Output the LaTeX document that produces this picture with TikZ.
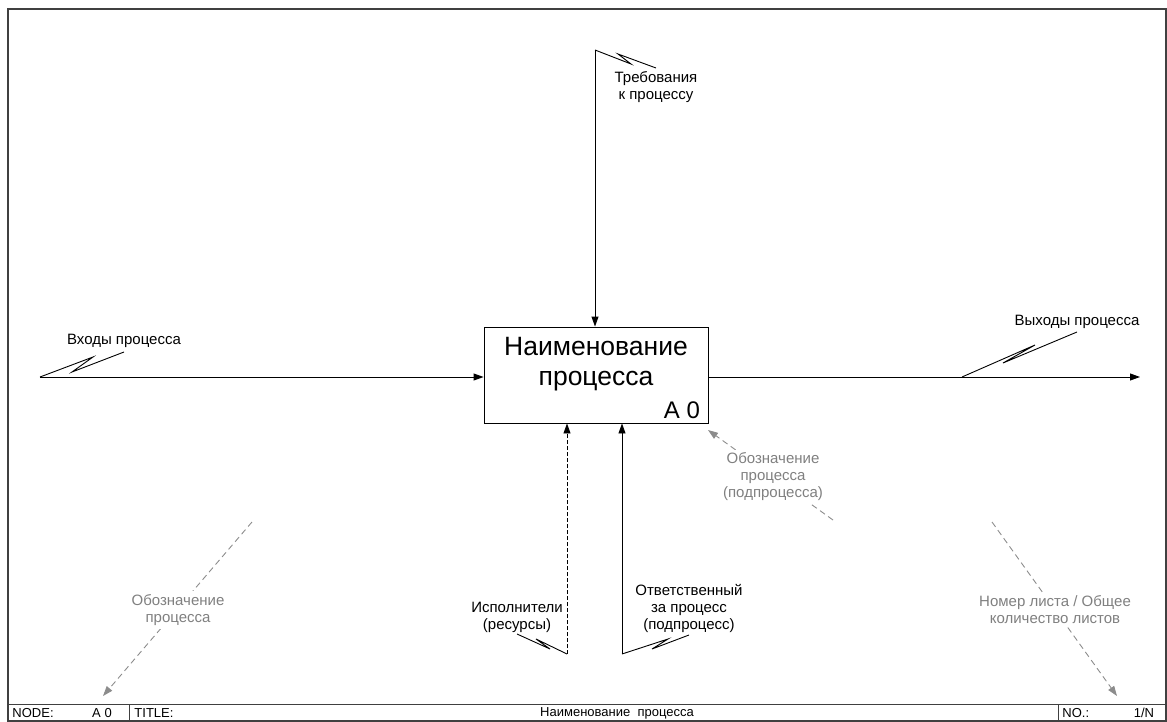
\documentclass[tikz,border=0pt]{standalone}
\usepackage{fontspec}
\setmainfont{Liberation Sans}
\usetikzlibrary{arrows.meta,positioning}

\begin{document}
\begin{tikzpicture}[x=1pt,y=-1pt,>={Triangle[length=10pt,width=7pt]},line width=0.9pt,
    lbl/.style={align=center,font=\fontsize{15}{17}\selectfont,inner sep=1pt},
    note/.style={lbl,text=black!50,fill=white,inner sep=3pt},
    hint/.style={draw=black!45,dashed,dash pattern=on 6pt off 4pt,->},
    bar/.style={font=\fontsize{13}{15}\selectfont,inner sep=0pt}]

    \useasboundingbox (0,0) rectangle (1167,722);

    % frame and bottom bar
    \draw[line width=1.5pt,black!75] (8,9) rectangle (1166,721);
    \draw[black!75] (8,704) -- (1166,704) (129,704) -- (129,721) (1058,704) -- (1058,721);
    \node[bar,anchor=west] (nd)  at (12,713)   {NODE:};
    \node[bar]             (ndv) at (102,713)  {A 0};
    \node[bar,anchor=west] (tt)  at (134,713)  {TITLE:};
    \node[bar]             (ttv) at (617,713)  {Наименование\ \ процесса};
    \node[bar,anchor=west] (no)  at (1062,713) {NO.:};
    \node[bar]             (nov) at (1144,713) {1/N};

    % the process box
    \node[draw,minimum width=224pt,minimum height=96pt] (box) at (596,375) {};
    \node[align=center,font=\fontsize{26.5}{30}\selectfont] (name) at (596,364) {Наименование\\процесса};
    \node[anchor=south east,font=\fontsize{24}{28}\selectfont,inner xsep=8pt,inner ysep=4pt] (code) at (box.south east) {A 0};

    % free ends of the arrows
    \coordinate (in)   at (40,377);
    \coordinate (out)  at (1140,377);
    \coordinate (ctl)  at (595,50);
    \coordinate (mech) at (567,654);
    \coordinate (call) at (622,654);

    \draw[->] (in) -- (box.west |- in);
    \draw[->] (box.east |- out) -- (out);
    \draw[->] (ctl) -- (ctl |- box.north);
    \draw[->,dashed,dash pattern=on 4pt off 2pt] (mech) -- (mech |- box.south);
    \draw[->] (call) -- (call |- box.south);

    % labels with squiggles
    \node[lbl] (lin)   at (124,341)  {Входы процесса};
    \node[lbl] (lout)  at (1077,322) {Выходы процесса};
    \node[lbl] (lctl)  at (656,87)   {Требования\\к процессу};
    \node[lbl] (lmech) at (517,617)  {Исполнители\\(ресурсы)};
    \node[lbl] (lcall) at (689,608)  {Ответственный\\за процесс\\(подпроцесс)};

    \draw (in)   -- ++(53,-20) -- ++(-21,15) -- ++(52,-20);
    \draw (962,377) -- ++(73,-32) -- ++(-32,18) -- ++(74,-31);
    \draw (ctl)  -- ++(36,14) -- ++(-13,-10) -- ++(38,14);
    \draw (mech) -- ++(-31,-15) -- ++(14,10) -- ++(-33,-15);
    \draw (call) -- ++(46,-15) -- ++(-16,10) -- ++(37,-14);

    % gray hints
    \coordinate (h1a) at (833,520); \coordinate (h1b) at (708,430);
    \coordinate (h2a) at (252,522); \coordinate (h2b) at (103,696);
    \coordinate (h3a) at (992,522); \coordinate (h3b) at (1117,696);
    \draw[hint] (h1a) -- (h1b);
    \draw[hint] (h2a) -- (h2b);
    \draw[hint] (h3a) -- (h3b);
    \node[note] (n1) at (773,477) {Обозначение\\процесса\\(подпроцесса)};
    \node[note] (n2) at (178,610) {Обозначение\\процесса};
    \node[note] (n3) at (1055,610) {Номер листа / Общее\\количество листов};
\end{tikzpicture}
\end{document}
